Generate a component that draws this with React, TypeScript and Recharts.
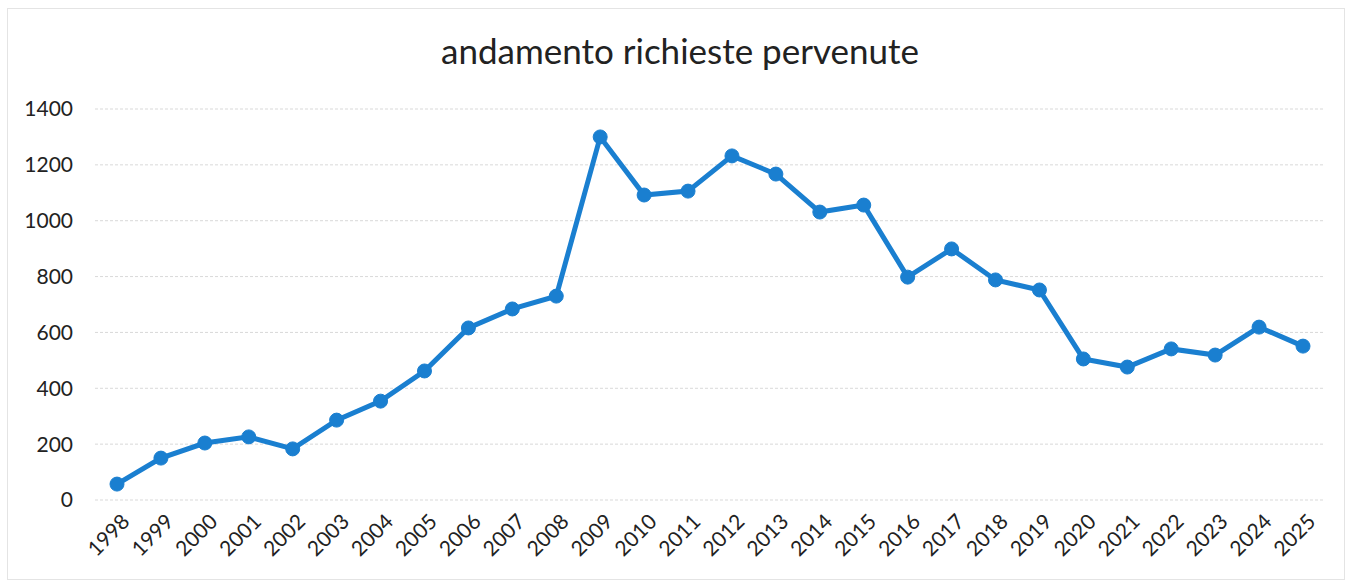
import React from 'react';
import { LineChart, Line, XAxis, YAxis, CartesianGrid } from 'recharts';

const years = ['1998','1999','2000','2001','2002','2003','2004','2005','2006','2007','2008','2009','2010','2011','2012','2013','2014','2015','2016','2017','2018','2019','2020','2021','2022','2023','2024','2025'];
const requests = [57,150,204,226,183,286,354,462,616,684,730,1300,1092,1106,1232,1167,1031,1056,798,899,788,752,505,476,541,519,619,551];
const yTicks = [0,200,400,600,800,1000,1200,1400];

const data = years.map((y, i) => ({ year: y, value: requests[i] }));

const FONT = 'Lato, "Open Sans", sans-serif';

const XTick = (props: any) => {
  const { x, y, payload } = props;
  return (
    <g transform={`translate(${x + 9},${y + 10})`}>
      <text textAnchor="end" transform="rotate(-45)" fontSize={21} fill="#222" fontFamily={FONT} dy={7}>
        {payload.value}
      </text>
    </g>
  );
};

export default function App() {
  return (
    <div style={{ position: 'absolute', left: 0, top: 0, width: 1352, height: 582, background: '#fff' }}>
      <div style={{ position: 'absolute', left: 7, top: 8, width: 1338, height: 572, border: '1px solid #e4e4e4', boxSizing: 'border-box' }} />
      <div style={{ position: 'absolute', left: 0, top: 29, width: 1360, textAlign: 'center', fontFamily: FONT, fontSize: 35, color: '#222' }}>
        andamento richieste pervenute
      </div>
      <div style={{ position: 'absolute', left: 0, top: 0 }}>
        <LineChart width={1352} height={582} data={data} margin={{ top: 109, right: 27, left: 20, bottom: 12 }}>
          <CartesianGrid vertical={false} stroke="#d9d9d9" strokeDasharray="3 2" />
          <XAxis dataKey="year" interval={0} axisLine={false} tickLine={false} padding={{ left: 22, right: 22 }} height={70} tick={<XTick />} />
          <YAxis domain={[0, 1400]} ticks={yTicks} axisLine={false} tickLine={false} width={75} tick={{ fontSize: 21, fill: '#222', fontFamily: FONT }} tickMargin={16} />
          <Line type="linear" dataKey="value" stroke="#1a7fd0" strokeWidth={5} dot={{ r: 7, fill: '#1a7fd0', stroke: '#1a7fd0', strokeWidth: 1 }} isAnimationActive={false} />
        </LineChart>
      </div>
    </div>
  );
}
